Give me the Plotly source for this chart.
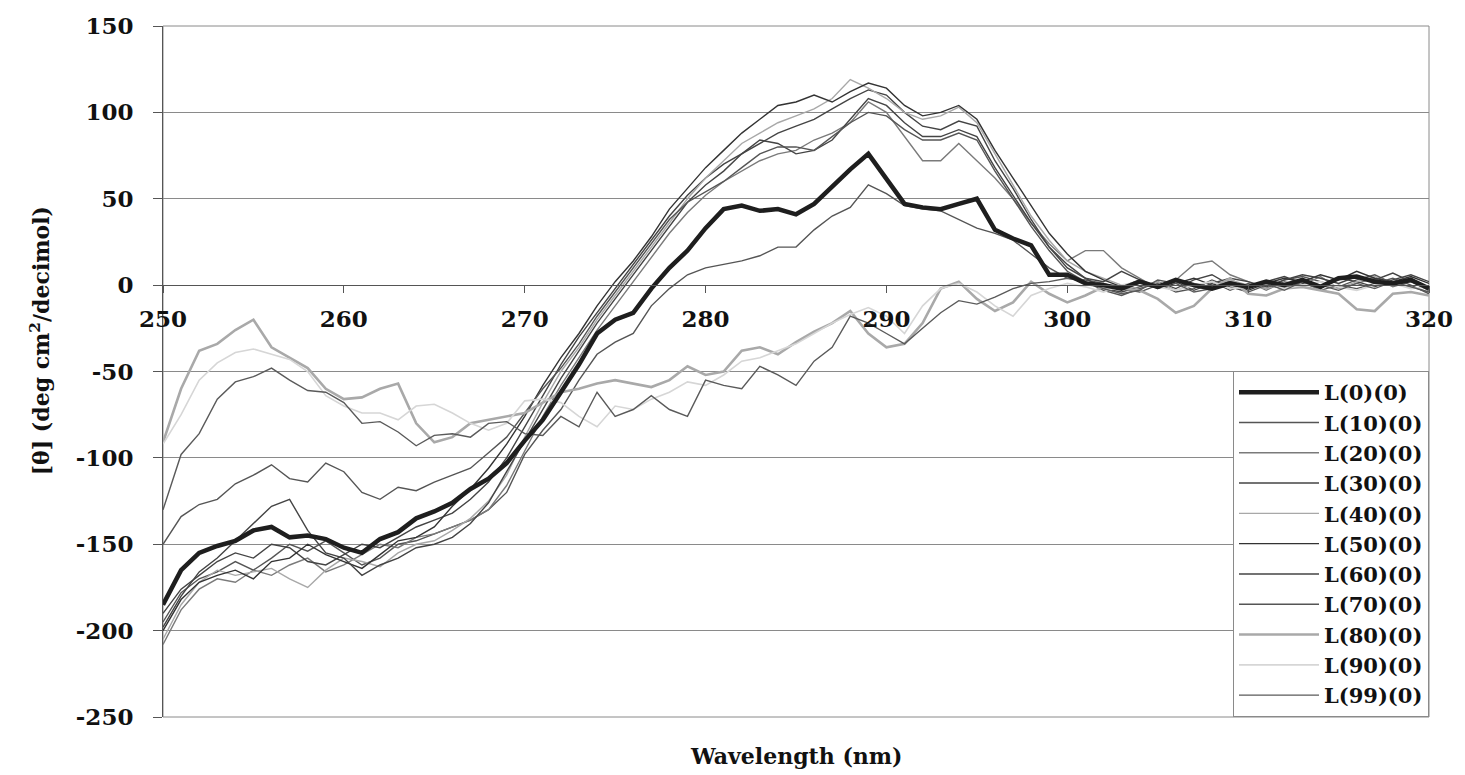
import plotly.graph_objects as go

# Wavelength grid (nm)
wavelength = list(range(250, 321))

# Molar ellipticity series, one per sample
l0 = [-185, -165, -155, -151, -148, -142, -140, -146, -145, -147, -152, -155, -147, -143, -135, -131, -126, -118, -112, -103,
      -90, -78, -62, -46, -28, -20, -16, -2, 10, 20, 33, 44, 46, 43, 44, 41, 47, 57, 67, 76,
      62, 47, 45, 44, 47, 50, 32, 27, 23, 6, 6, 1, 0, -2, 2, -1, 3, 0, -2, 1,
      -1, 2, 0, 3, -1, 4, 5, 2, 1, 3, -2]
l10 = [-195, -178, -170, -166, -160, -165, -158, -150, -154, -148, -155, -162, -158, -150, -148, -144, -140, -136, -130, -120,
       -98, -84, -72, -55, -40, -33, -28, -12, -2, 6, 10, 12, 14, 17, 22, 22, 32, 40, 45, 58,
       53, 46, 44, 43, 38, 33, 30, 26, 18, 10, 4, 3, 1, -2, -4, 0, 3, -1, 2, -3,
       1, -2, 3, 5, 2, -1, 3, 6, 1, 4, -3]
l20 = [-208, -188, -176, -170, -172, -165, -168, -162, -158, -166, -162, -156, -150, -152, -146, -144, -140, -136, -130, -116,
       -96, -76, -58, -42, -26, -12, 2, 16, 30, 42, 52, 60, 66, 72, 76, 78, 84, 88, 94, 106,
       100, 86, 72, 72, 82, 72, 62, 50, 36, 24, 14, 20, 20, 10, 4, -2, 3, 12, 14, 6,
       2, -3, 2, 0, 5, -2, 1, 4, -1, 2, -3]
l30 = [-190, -176, -168, -160, -155, -158, -150, -152, -160, -162, -156, -150, -152, -146, -140, -136, -132, -124, -114, -100,
       -82, -64, -46, -30, -16, -2, 12, 26, 40, 52, 62, 70, 76, 82, 88, 92, 96, 102, 108, 113,
       110, 100, 92, 90, 95, 92, 72, 56, 38, 22, 12, 4, -2, -4, -1, 2, -2, 3, 6, 0,
       -2, 2, 5, 1, -2, 4, 2, -1, 3, 6, 2]
l40 = [-205, -185, -172, -165, -168, -166, -164, -170, -175, -165, -158, -160, -163, -155, -150, -148, -142, -135, -125, -110,
       -88, -68, -50, -36, -20, -6, 8, 22, 36, 50, 62, 72, 82, 88, 94, 98, 102, 108, 119, 114,
       108, 100, 96, 98, 103, 94, 76, 58, 40, 26, 14, 8, 4, 0, -2, 2, -3, 1, -1, 3,
       0, -2, 1, 3, 0, -2, 2, 5, 1, -1, -4]
l50 = [-200, -182, -172, -168, -165, -170, -160, -158, -150, -156, -160, -164, -156, -148, -146, -140, -128, -118, -106, -92,
       -76, -58, -42, -28, -12, 2, 14, 28, 44, 56, 68, 78, 88, 96, 104, 106, 110, 106, 112, 117,
       114, 104, 98, 100, 104, 96, 78, 62, 46, 30, 18, 8, 3, -1, 3, -2, 1, 4, 0, 2,
       -3, 1, 4, 2, 6, 3, 8, 4, 2, 5, 1]
l60 = [-198, -180, -166, -158, -148, -138, -128, -124, -142, -155, -158, -168, -162, -158, -152, -150, -146, -138, -126, -108,
       -90, -72, -54, -38, -22, -8, 6, 20, 34, 48, 58, 66, 76, 84, 82, 76, 78, 84, 96, 108,
       104, 94, 86, 86, 90, 86, 68, 52, 36, 22, 10, 4, 2, 8, 3, -1, 2, -3, 1, 4,
       2, -1, 3, 6, 4, 1, 5, 3, 7, 2, -1]
l70 = [-150, -134, -127, -124, -115, -110, -104, -112, -114, -103, -108, -120, -124, -117, -119, -114, -110, -106, -97, -88,
       -74, -60, -48, -34, -18, -4, 10, 24, 38, 48, 54, 60, 68, 76, 80, 80, 78, 86, 94, 100,
       98, 90, 84, 84, 88, 84, 66, 50, 34, 20, 8, 2, -3, -6, -2, 1, -4, -2, 3, -1,
       -4, 0, -2, 2, -3, 0, -2, 1, 4, 0, -5]
l80 = [-91, -60, -38, -34, -26, -20, -36, -42, -48, -60, -66, -65, -60, -57, -80, -91, -88, -80, -78, -76,
       -74, -68, -62, -60, -57, -55, -57, -59, -55, -47, -52, -50, -38, -36, -40, -33, -27, -22, -15, -28,
       -36, -34, -22, -2, 2, -8, -15, -10, 2, -5, -10, -6, -1, -2, -3, -8, -16, -12, -2, 4,
       -5, -6, -2, -1, -3, -5, -14, -15, -5, -4, -6]
l90 = [-92, -75, -55, -45, -39, -37, -40, -43, -50, -64, -70, -74, -74, -78, -70, -69, -74, -80, -84, -80,
       -67, -66, -68, -76, -82, -70, -72, -66, -62, -56, -58, -52, -44, -42, -38, -34, -28, -22, -17, -13,
       -18, -28, -12, -2, 1, -4, -12, -18, -6, -2, 1, -1, -4, 0, 2, -1, -3, 0, 2, -2,
       -1, 1, -2, 0, 2, -1, -3, 0, 1, -2, -1]
l99 = [-130, -98, -86, -66, -56, -53, -48, -55, -61, -62, -68, -80, -79, -85, -93, -87, -86, -88, -80, -79,
       -86, -87, -76, -82, -62, -76, -72, -64, -72, -76, -55, -58, -60, -47, -52, -58, -44, -36, -18, -22,
       -28, -34, -25, -16, -9, -11, -7, -2, 1, 2, 4, 2, -2, -5, -3, 3, 1, -4, -2, 2,
       -1, 1, -3, 2, 0, -3, 1, -2, 2, -1, -4]

series_names = ["L(0)(0)", "L(10)(0)", "L(20)(0)", "L(30)(0)", "L(40)(0)", "L(50)(0)",
                "L(60)(0)", "L(70)(0)", "L(80)(0)", "L(90)(0)", "L(99)(0)"]
series_values = [l0, l10, l20, l30, l40, l50, l60, l70, l80, l90, l99]
series_colors = ["#1e1e1e", "#555555", "#7a7a7a", "#444444", "#a8a8a8", "#333333",
                 "#444444", "#555555", "#a9a9a9", "#d6d6d6", "#5a5a5a"]
series_widths = [4.5, 1.4, 1.4, 1.4, 1.4, 1.4, 1.4, 1.4, 2.6, 1.6, 1.4]

# Axis ticks (plain hyphen for negatives)
y_tick_values = [150, 100, 50, 0, -50, -100, -150, -200, -250]
y_tick_labels = ["150", "100", "50", "0", "-50", "-100", "-150", "-200", "-250"]
x_tick_values = [250, 260, 270, 280, 290, 300, 310, 320]
x_tick_labels = ["250", "260", "270", "280", "290", "300", "310", "320"]

serif = "DejaVu Serif"

fig = go.Figure()

# Thin series first so the thick L(0)(0) curve sits on top
draw_order = list(range(1, len(series_names))) + [0]
for i in draw_order:
    fig.add_trace(go.Scatter(
        x=wavelength, y=series_values[i], mode="lines", name=series_names[i],
        line=dict(color=series_colors[i], width=series_widths[i]),
        legendrank=i + 1,
    ))

fig.update_layout(
    width=1465, height=775,
    margin=dict(l=163, r=33, t=20, b=58),
    paper_bgcolor="white", plot_bgcolor="white",
    showlegend=True,
    legend=dict(
        x=1, y=0, xanchor="right", yanchor="bottom",
        bgcolor="white", bordercolor="#8a8a8a", borderwidth=1,
        font=dict(family=serif, size=21, color="#111111", weight="bold"),
        itemwidth=80, tracegroupgap=0,
    ),
    xaxis=dict(
        range=[250, 320], tickvals=x_tick_values, ticktext=x_tick_labels,
        anchor="free", position=0.625,
        showline=True, linecolor="#555555", linewidth=1,
        ticks="outside", ticklen=7, tickcolor="#555555",
        showgrid=False, zeroline=False,
        tickfont=dict(family=serif, size=23, color="#111111", weight="bold"),
        ticklabelstandoff=6,
    ),
    yaxis=dict(
        range=[-250, 150], tickvals=y_tick_values, ticktext=y_tick_labels,
        showline=True, linecolor="#555555", linewidth=1,
        ticks="outside", ticklen=9, tickcolor="#555555",
        showgrid=True, gridcolor="#8a8a8a", gridwidth=1, zeroline=False,
        tickfont=dict(family=serif, size=23, color="#111111", weight="bold"),
        ticklabelstandoff=15,
    ),
    shapes=[dict(type="rect", xref="paper", yref="paper", x0=0, x1=1, y0=0, y1=1,
                 line=dict(color="#8a8a8a", width=1), layer="below")],
    annotations=[
        dict(text="Wavelength (nm)", xref="paper", yref="paper", x=0.5, y=-0.057,
             xanchor="center", yanchor="middle", showarrow=False,
             font=dict(family=serif, size=22, color="#111111", weight="bold")),
        dict(text="[θ] (deg cm<sup>2</sup>/decimol)", xref="paper", yref="paper",
             x=-0.097, y=0.544, xanchor="center", yanchor="middle", textangle=-90,
             showarrow=False,
             font=dict(family=serif, size=22, color="#111111", weight="bold")),
    ],
)

fig.write_html("out.html")
